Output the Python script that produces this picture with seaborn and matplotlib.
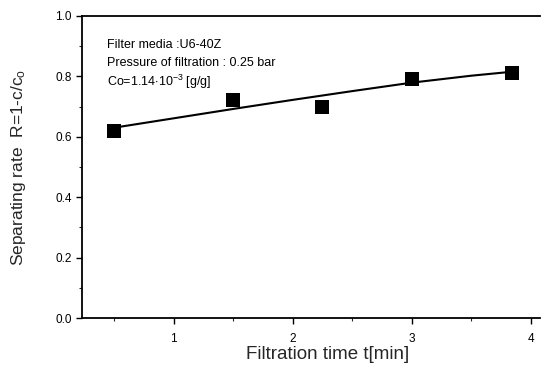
import matplotlib
matplotlib.use("Agg")
import matplotlib.pyplot as plt
import seaborn as sns
import pandas as pd
from matplotlib.ticker import MultipleLocator

# Data
time_min = [0.5, 1.5, 2.25, 3.0, 3.84]
sep_rate = [0.62, 0.72, 0.70, 0.79, 0.81]

fit_time = [0.5, 1.0, 1.5, 2.0, 2.5, 3.0, 3.5, 3.84]
fit_rate = [0.630, 0.661, 0.692, 0.722, 0.751, 0.779, 0.802, 0.815]

annotations = ["Filter media :U6-40Z",
               "Pressure of filtration : 0.25 bar",
               r"Co=1.14$\cdot$10$^{-3}$ [g/g]"]

sns.set_style("ticks")
plt.rcParams['font.family'] = ['Liberation Sans', 'DejaVu Sans']
plt.rcParams['mathtext.fontset'] = 'custom'
plt.rcParams['mathtext.rm'] = 'Liberation Sans'
plt.rcParams['mathtext.it'] = 'Liberation Sans:italic'

pts = pd.DataFrame({"t": time_min, "R": sep_rate})
fit = pd.DataFrame({"t": fit_time, "R": fit_rate})

fig = plt.figure(figsize=(5.43, 3.69), dpi=100)
ax = fig.add_axes([0.151, 0.138, 0.844, 0.819])

sns.lineplot(data=fit, x="t", y="R", ax=ax, color="black", linewidth=1.5)
sns.scatterplot(data=pts, x="t", y="R", ax=ax, marker="s", s=100,
                color="black", edgecolor="black", linewidth=0, zorder=3)

ax.set_xlim(0.23, 4.08)
ax.set_ylim(0.0, 1.0)
ax.xaxis.set_major_locator(MultipleLocator(1))
ax.xaxis.set_minor_locator(MultipleLocator(0.5))
ax.yaxis.set_major_locator(MultipleLocator(0.2))
ax.yaxis.set_minor_locator(MultipleLocator(0.1))
ax.set_yticklabels([f"{v:.1f}" for v in ax.get_yticks()])

for s in ["left", "bottom", "top"]:
    ax.spines[s].set_linewidth(1.3)
    ax.spines[s].set_color("black")
ax.spines["right"].set_visible(False)

ax.tick_params(which="major", direction="out", length=4, width=1.0,
               labelsize=8.5, colors="black", top=False, right=False)
ax.tick_params(axis="x", which="major", pad=7)
ax.tick_params(which="minor", direction="out", length=2.5, width=0.8,
               top=False, right=False)

ax.set_xlabel("Filtration time t[min]", fontsize=13.5)
ax.set_ylabel(r"Separating rate  R=1-c/c$_{\mathrm{o}}$", fontsize=12.5)
# label positions in axes coordinates
ax.xaxis.set_label_coords((328 - 82) / 458.3, -(354 - 318) / 302.2)
ax.yaxis.set_label_coords(-(82 - 19) / 458.3, 0.50)
ax.xaxis.label.set_va("center")
ax.yaxis.label.set_va("center")

for i, txt in enumerate(annotations):
    ax.text(0.055, 0.905 - i * 0.062, txt, transform=ax.transAxes,
            fontsize=9, va="center", ha="left", color="black")

fig.savefig("out.png", dpi=100)
